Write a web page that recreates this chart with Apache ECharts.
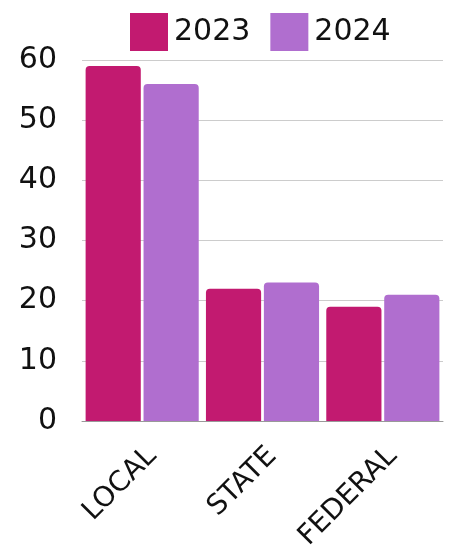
<!DOCTYPE html>
<html><head><meta charset="utf-8">
<script src="https://cdn.jsdelivr.net/npm/echarts@6/dist/echarts.min.js"></script>
<style>html,body{margin:0;padding:0;background:#fff}#c{width:450px;height:555px}</style>
</head><body><div id="c"></div>
<script>
const categories = ['LOCAL', 'STATE', 'FEDERAL'];
const seriesNames = ['2023', '2024'];
const values2023 = [59, 22, 19];
const values2024 = [56, 23, 21];
const yTicks = [0, 10, 20, 30, 40, 50, 60];

const colors = ['#C21A70', '#B06ECF'];
const font = 'DejaVu Sans, sans-serif';
const chart = echarts.init(document.getElementById('c'));
chart.setOption({
  animation: false,
  color: colors,
  legend: {
    top: 8, left: 125, itemWidth: 38, itemHeight: 38, itemGap: 20,
    icon: 'rect',
    textStyle: { fontSize: 30, color: '#111', fontFamily: font, padding: [0, 0, 0, 1] },
    data: seriesNames
  },
  grid: { left: 82, right: 7, top: 60, bottom: 134 },
  xAxis: {
    type: 'category', data: categories,
    axisTick: { show: false },
    axisLine: { lineStyle: { color: '#999', width: 1 } },
    axisLabel: { rotate: 45, fontSize: 28, color: '#111', fontFamily: font, margin: 21, verticalAlign: 'top' }
  },
  yAxis: {
    type: 'value', min: yTicks[0], max: yTicks[yTicks.length - 1], interval: 10,
    splitLine: { lineStyle: { color: '#ccc', width: 1 } },
    axisLabel: { fontSize: 30, color: '#111', fontFamily: font, margin: 25 }
  },
  series: [
    { name: seriesNames[0], type: 'bar', data: values2023, barGap: '5%', barCategoryGap: '6%', itemStyle: { borderRadius: [4, 4, 0, 0] } },
    { name: seriesNames[1], type: 'bar', data: values2024, barGap: '5%', barCategoryGap: '6%', itemStyle: { borderRadius: [4, 4, 0, 0] } }
  ]
});
</script></body></html>
